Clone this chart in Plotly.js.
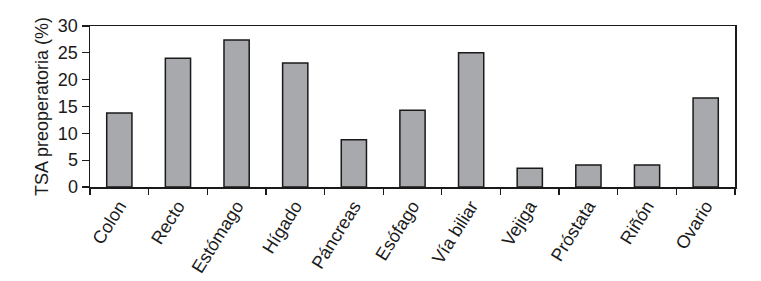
<!DOCTYPE html>
<html>
<head>
<meta charset="utf-8">
<script src="https://cdn.plot.ly/plotly-3.0.1.min.js"></script>
<style>html,body{margin:0;padding:0;background:#fff;}</style>
</head>
<body>
<div id="chart" style="width:761px;height:281px;"></div>
<script>
const categories = ["Colon", "Recto", "Estómago", "Hígado", "Páncreas", "Esófago", "Vía biliar", "Vejiga", "Próstata", "Riñón", "Ovario"];
const values = [13.8, 24.0, 27.4, 23.1, 8.8, 14.3, 25.0, 3.5, 4.1, 4.1, 16.6];
const yTicks = [0, 5, 10, 15, 20, 25, 30];
const yTitle = "TSA preoperatoria (%)";

const font = "Liberation Sans, Arial, Helvetica, sans-serif";

Plotly.newPlot("chart", [{
  type: "bar",
  x: categories,
  y: values,
  marker: { color: "#a8a9ac", line: { color: "#1a1a1a", width: 1.5 } },
  width: 0.43,
  hoverinfo: "x+y"
}], {
  width: 761, height: 281,
  margin: { l: 90, r: 26, t: 26, b: 94 },
  paper_bgcolor: "#fff", plot_bgcolor: "#fff",
  showlegend: false,
  font: { family: font, color: "#1a1a1a", size: 18 },
  xaxis: {
    tickson: "boundaries",
    ticks: "outside", ticklen: 6, tickwidth: 1.3, tickcolor: "#1a1a1a",
    tickangle: -58,
    tickfont: { family: font, size: 18, color: "#1a1a1a" },
    showline: true, linecolor: "#1a1a1a", linewidth: 1.5, mirror: true,
    showgrid: false, zeroline: false,
    range: [-0.5, 10.5]
  },
  yaxis: {
    range: [0, 30],
    tickvals: yTicks,
    ticktext: yTicks.map(String),
    ticks: "outside", ticklen: 7, tickwidth: 1.3, tickcolor: "#1a1a1a",
    tickfont: { family: font, size: 18, color: "#1a1a1a" },
    showline: true, linecolor: "#1a1a1a", linewidth: 1.5, mirror: true,
    showgrid: false, zeroline: false,
    title: { text: yTitle, font: { family: font, size: 18, color: "#1a1a1a" }, standoff: 4 }
  }
}, { displayModeBar: false, staticPlot: true });
</script>
</body>
</html>
